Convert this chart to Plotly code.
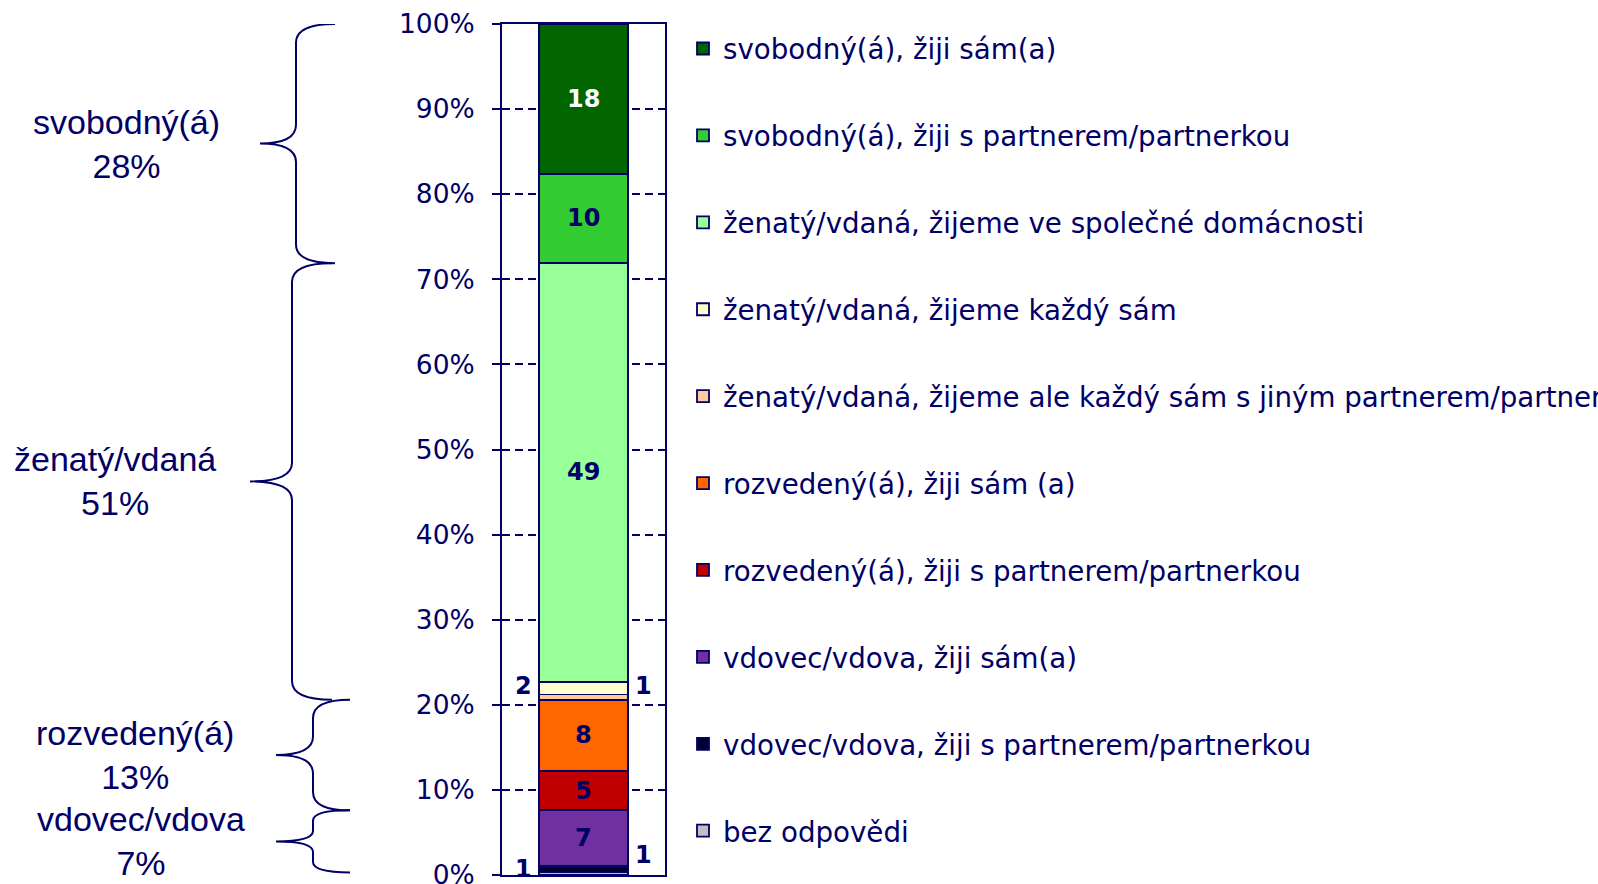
import plotly.graph_objects as go

# ---------------- data (bottom -> top of the stacked bar) ----------------
categories = [
    "bez odpovědi",
    "vdovec/vdova, žiji s partnerem/partnerkou",
    "vdovec/vdova, žiji sám(a)",
    "rozvedený(á), žiji s partnerem/partnerkou",
    "rozvedený(á), žiji sám (a)",
    "ženatý/vdaná, žijeme ale každý sám s jiným partnerem/partnerkou",
    "ženatý/vdaná, žijeme každý sám",
    "ženatý/vdaná, žijeme ve společné domácnosti",
    "svobodný(á), žiji s partnerem/partnerkou",
    "svobodný(á), žiji sám(a)",
]
values = [0.3, 0.8, 6.5, 4.6, 8.4, 0.6, 1.5, 49.2, 10.5, 17.6]
value_labels = ["1", "1", "7", "5", "8", "1", "2", "49", "10", "18"]
label_side = ["right", "left", "in", "in", "in", "right", "left", "in", "in", "in"]
label_dy = [19, 0, 0, 0, 0, 11, 2, 0, 0, 0]
label_colors = ["#000066"] * 9 + ["#ffffff"]
colors = ["#C0C0C0", "#000033", "#7030A0", "#C00000", "#FF6600",
          "#FFCC99", "#FFFFCC", "#99FF99", "#33CC33", "#006400"]

group_names = ["vdovec/vdova", "rozvedený(á)", "ženatý/vdaná", "svobodný(á)"]
group_pct = [7, 13, 51, 28]
group_members = [[1, 2], [3, 4], [5, 6, 7], [8, 9]]

tick_vals = list(range(0, 101, 10))
tick_text = [f"{v}%" for v in tick_vals]

# ---------------- layout constants ----------------
W, H = 1598, 884
PL, PR = 502, 665          # plot area left/right in px
PT, PB = 24, 875           # plot area top/bottom in px
NAVY = "#000066"

def px2paper(px):
    return (px - PL) / (PR - PL)

# brace geometry (px): tip x, vertical x, end x
brace_px = [(276, 313, 350), (276, 313, 350), (250, 292, 332), (260, 296, 335)]
group_label_x = [141, 135, 115, 126]

fig = go.Figure()
n = len(categories)
for i, (cat, v, c) in enumerate(zip(categories, values, colors)):
    fig.add_trace(go.Bar(
        x=[0], y=[v], name=cat, marker=dict(color=c, line=dict(color=NAVY, width=1.8)),
        width=0.55, legendgroup=str(i), legendrank=n - i, hoverinfo="name+y",
    ))

# value labels
cum = []
s = 0
for v in values:
    cum.append(s)
    s += v
annotations = []
for i, (v, lab, side) in enumerate(zip(values, value_labels, label_side)):
    mid = cum[i] + v / 2
    xpos = {"in": 0, "left": -0.37, "right": 0.37}[side]
    annotations.append(dict(
        x=xpos, y=mid, xref="x", yref="y", text=f"<b>{lab}</b>", showarrow=False,
        yshift=label_dy[i], font=dict(family="DejaVu Sans", size=24, color=label_colors[i]),
        xanchor="center", yanchor="middle",
    ))

# braces + group labels
shapes = []
for g, members in enumerate(group_members):
    lo = cum[members[0]]
    hi = cum[members[-1]] + values[members[-1]]
    mid = (lo + hi) / 2
    r = min(2.2, (hi - lo) / 6)
    xt, xv, xe = (px2paper(p) for p in brace_px[g])
    path = (f"M{xe},{hi} Q{xv},{hi} {xv},{hi - r} L{xv},{mid + r} "
            f"Q{xv},{mid} {xt},{mid} Q{xv},{mid} {xv},{mid - r} "
            f"L{xv},{lo + r} Q{xv},{lo} {xe},{lo}")
    shapes.append(dict(type="path", path=path, xref="paper", yref="y",
                       line=dict(color=NAVY, width=2)))
    annotations.append(dict(
        x=px2paper(group_label_x[g]), y=mid, xref="paper", yref="y",
        text=f"{group_names[g]}<br>{group_pct[g]}%", showarrow=False,
        font=dict(family="Liberation Sans, Arial", size=34, color=NAVY),
        xanchor="center", yanchor="middle", align="center",
    ))

fig.update_layout(
    width=W, height=H, barmode="stack", plot_bgcolor="white", paper_bgcolor="white",
    margin=dict(l=PL, r=W - PR, t=PT, b=H - PB, autoexpand=False),
    showlegend=True,
    legend=dict(
        x=px2paper(683), xanchor="left", y=1, yanchor="top",
        traceorder="grouped", tracegroupgap=47.9, maxheight=H,
        font=dict(family="DejaVu Sans", size=27.7, color=NAVY),
        bgcolor="rgba(0,0,0,0)",
    ),
    xaxis=dict(range=[-0.5, 0.5], showticklabels=False, ticks="", showgrid=False,
               zeroline=False, showline=True, mirror=True, linecolor=NAVY, linewidth=2,
               fixedrange=True),
    yaxis=dict(range=[0, 100], tickmode="array", tickvals=tick_vals, ticktext=tick_text,
               ticks="outside", ticklabeloverflow="allow",
               ticklen=8, tickwidth=2, tickcolor=NAVY, showgrid=True, gridcolor=NAVY,
               gridwidth=2, griddash="8px,5px", zeroline=False, showline=True,
               mirror=True, linecolor=NAVY, linewidth=2, ticklabelstandoff=12,
               tickfont=dict(family="DejaVu Sans", size=26.5, color=NAVY)),
    shapes=shapes, annotations=annotations,
)

fig.write_html("out.html", config={"displayModeBar": False},
               post_script="document.body.style.margin='0';")
